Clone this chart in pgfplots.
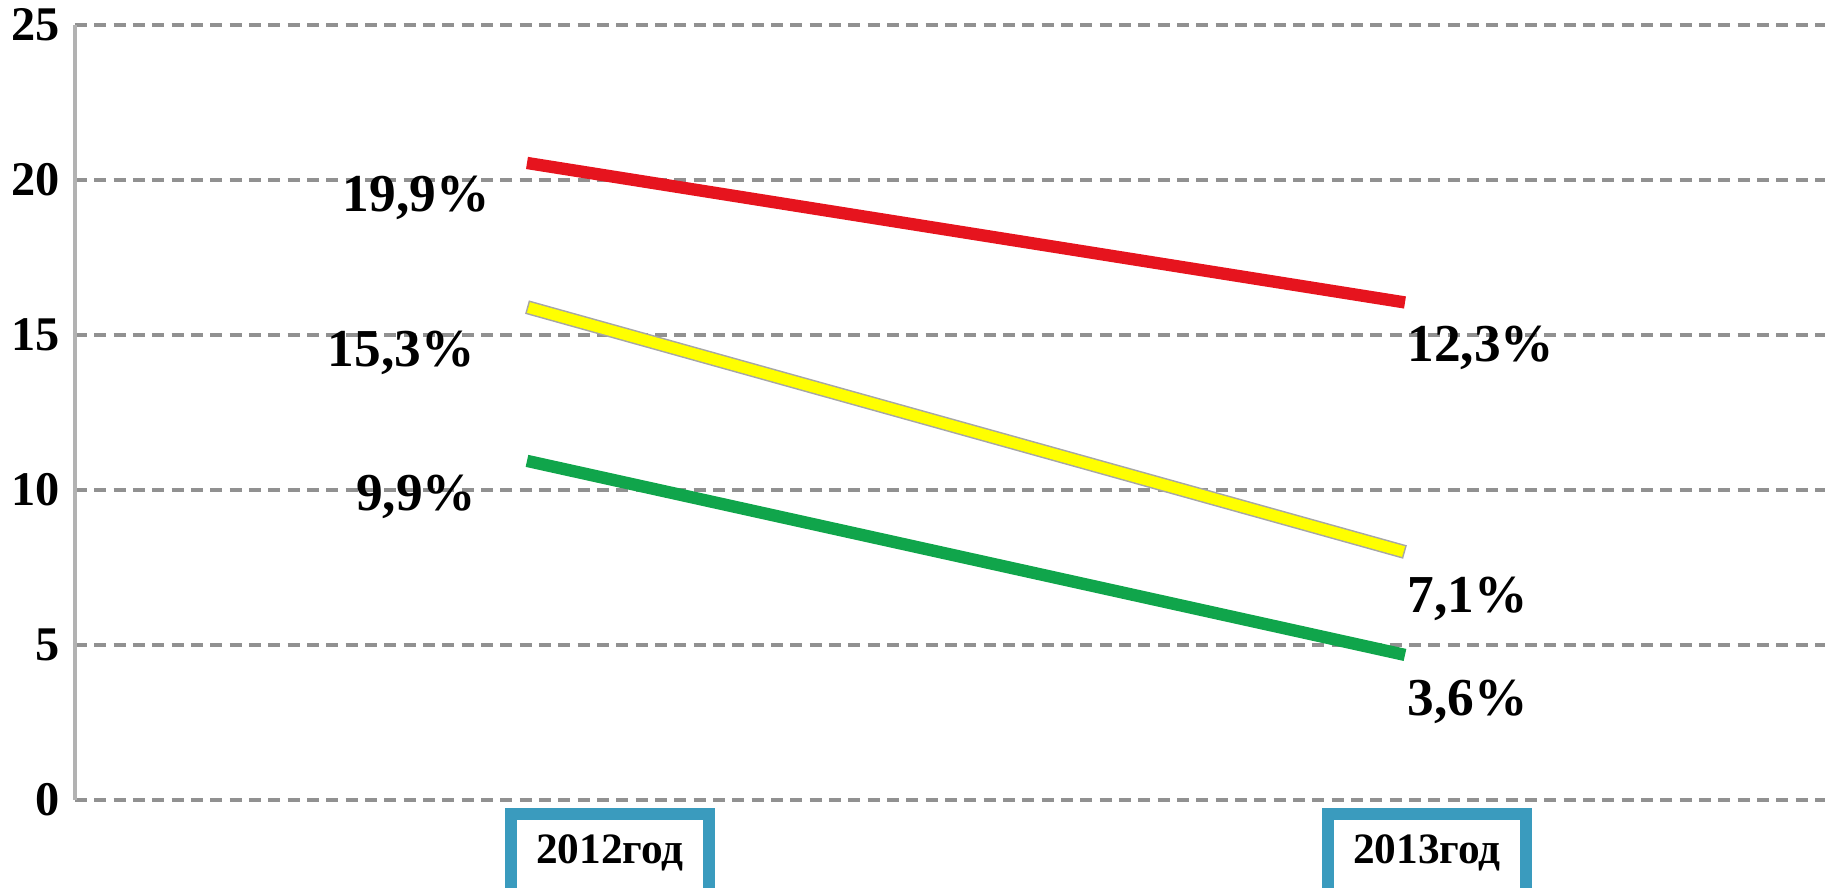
\documentclass[border=0pt]{standalone}
\usepackage{pgfplots}
\pgfplotsset{compat=1.18}
\usepackage{fontspec}
\setmainfont{Liberation Serif}

\definecolor{lred}{RGB}{230,20,30}
\definecolor{lyel}{RGB}{255,255,0}
\definecolor{lgrn}{RGB}{16,165,75}
\definecolor{boxc}{RGB}{58,155,190}
\definecolor{gridc}{RGB}{145,145,145}

\begin{document}
\begin{tikzpicture}
\begin{axis}[
  at={(0,0)}, anchor=south west,
  scale only axis,
  width=525pt, height=232.5pt,
  xmin=-0.5148, xmax=1.4784,
  ymin=0, ymax=25,
  ytick={0,5,10,15,20,25},
  xtick={0.0945,1.025},
  xticklabels={2012год,2013год},
  major tick length=0pt,
  axis line style={draw=none},
  ymajorgrids,
  grid style={gridc, line width=1pt, dash pattern=on 3.6pt off 2.2pt},
  /pgf/number format/assume math mode=true,
  yticklabel style={font=\bfseries\fontsize{14.5}{14.5}\selectfont, anchor=east, xshift=-1pt},
  xticklabel style={draw=boxc, line width=3.6pt, fill=white, anchor=north,
    outer sep=0pt, inner sep=3pt, minimum width=59.4pt,
    text height=11.8pt, text depth=20pt, yshift=-4.2pt,
    font=\bfseries\fontsize{13}{13}\selectfont},
  clip=false,
]
% left axis line
\draw[gray!60, line width=1.2pt] (rel axis cs:0,0) -- (rel axis cs:0,1);

\addplot[lred, line width=3.7pt, line cap=butt] coordinates {(0,20.55) (1,16.05)};
\addplot[gray!70, line width=4.2pt, line cap=butt] coordinates {(0,15.9) (1,8.0)};
\addplot[lyel, line width=3.3pt, line cap=butt, shorten <=0.45pt, shorten >=0.45pt] coordinates {(0,15.9) (1,8.0)};
\addplot[lgrn, line width=3.7pt, line cap=butt] coordinates {(0,10.94) (1,4.68)};

\begin{scope}[every node/.style={font=\bfseries\fontsize{16}{16}\selectfont, inner sep=0pt}]
\node[anchor=base east] at (axis cs:-0.042,18.97) {19,9\%};
\node[anchor=base east] at (axis cs:-0.059,13.98) {15,3\%};
\node[anchor=base east] at (axis cs:-0.057,9.34) {9,9\%};
\node[anchor=base west] at (axis cs:1.002,14.14) {12,3\%};
\node[anchor=base west] at (axis cs:1.002,6.05) {7,1\%};
\node[anchor=base west] at (axis cs:1.002,2.72) {3,6\%};
\end{scope}
\end{axis}
\pgfresetboundingbox
\path (-22.5pt,-26.1pt) rectangle (525pt,240pt);
\end{tikzpicture}
\end{document}
